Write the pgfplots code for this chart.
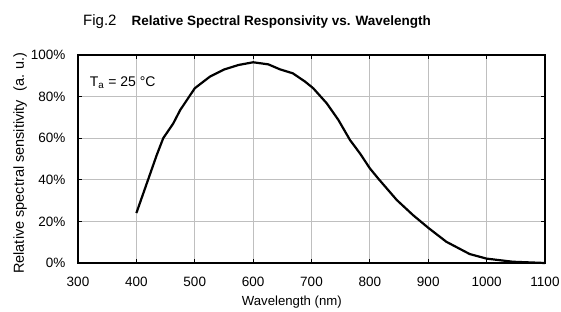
\documentclass[border=0pt]{standalone}
\usepackage{pgfplots}
\pgfplotsset{compat=1.18}
\usepackage{fontspec}
\setmainfont{Liberation Sans}
\begin{document}
\begin{tikzpicture}[x=1pt,y=1pt]
\path[use as bounding box] (0,0) rectangle (561,312);
\begin{axis}[
  at={(78pt,49pt)}, anchor=south west,
  scale only axis, width=467pt, height=208pt,
  xmin=300, xmax=1100, ymin=0, ymax=100,
  xtick={300,400,...,1100},
  xticklabels={300,400,500,600,700,800,900,1000,1100},
  ytick={0,20,...,100},
  yticklabels={0\%,20\%,40\%,60\%,80\%,100\%},
  grid=major,
  major grid style={draw=black!25, line width=0.9pt},
  tick align=inside,
  major tick length=4pt,
  tick style={black, line width=0.9pt},
  axis line style={black, line width=1.3pt},
  ticklabel style={font=\fontsize{13.5}{15}\selectfont},
  xticklabel style={yshift=-11pt},
  yticklabel style={xshift=-9pt},
  xlabel={Wavelength (nm)},
  xlabel style={at={(axis description cs:0.458,-0.19)}, anchor=center, font=\fontsize{13.2}{15}\selectfont},
  ylabel={Relative spectral sensitivity\ \ (a. u.)},
  ylabel style={at={(axis description cs:-0.124,0.48)}, anchor=center, rotate=0, font=\fontsize{14.5}{16}\selectfont},
  clip=false,
]
\addplot[black, line width=2.2pt, sharp plot, line join=round] coordinates {
(400,24) (420,40) (435,52) (446,60) (463,67) (475,73.5) (500,84) (526,89.6)
(550,93) (575,95.2) (600,96.5) (626,95.5) (646,93.1) (668,91.2) (689,87.2)
(703,84) (726,76.8) (746,68.8) (766,59.1) (783,52.7) (800,45.5) (814,40.7)
(846,30.3) (874,23) (901,16.7) (931,10.2) (971,4.3) (1000,2.1) (1045,0.6) (1100,0)
};
\node[anchor=west, font=\fontsize{14}{16}\selectfont, inner sep=0pt] at (axis cs:320,86.5) {T\textsubscript{a} = 25 °C};
\end{axis}
\node[anchor=west, inner sep=0pt] at (83,290) {\fontsize{15}{17}\selectfont Fig.2\hspace{15pt}\fontsize{13.5}{16}\selectfont\bfseries Relative Spectral Responsivity vs. Wavelength};
\end{tikzpicture}
\end{document}
